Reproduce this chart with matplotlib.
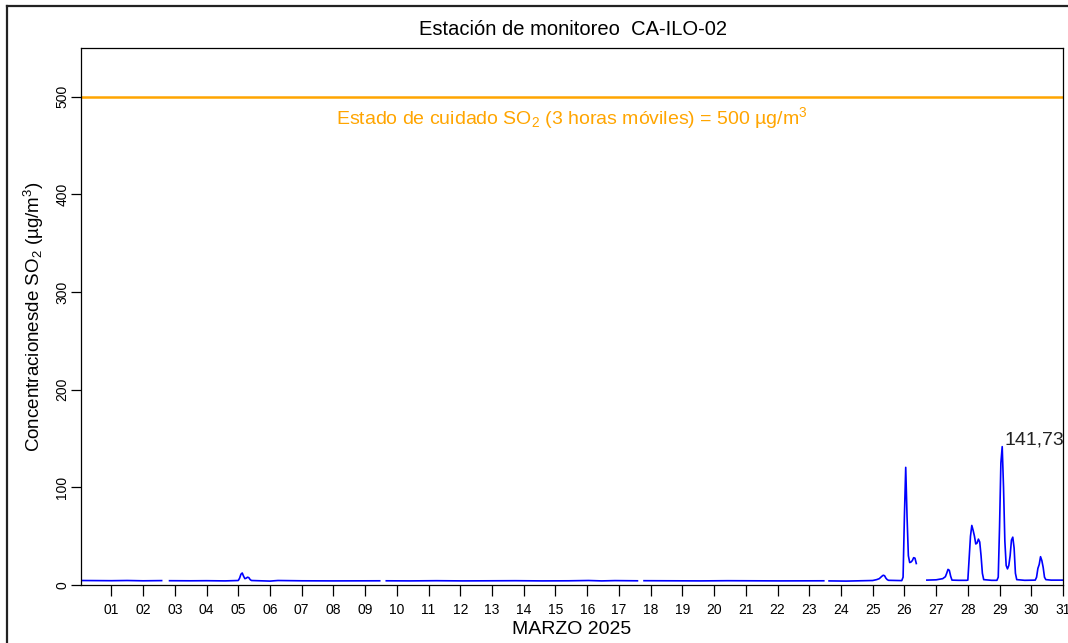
import numpy as np
import matplotlib
matplotlib.use('Agg')
import matplotlib.pyplot as plt
from matplotlib.lines import Line2D

plt.rcParams['font.family'] = ['Liberation Sans', 'DejaVu Sans']
plt.rcParams['mathtext.fontset'] = 'custom'
plt.rcParams['mathtext.rm'] = 'Liberation Sans'
plt.rcParams['mathtext.it'] = 'Liberation Sans:italic'
plt.rcParams['mathtext.bf'] = 'Liberation Sans:bold'

NAN = np.nan

# hour of month (1..744) and SO2 value; NaN = missing data
hours = [
    1, 12, 24, 36, 48, 62, 64,
    68, 84, 96, 110, 118, 120, 121, 122, 123, 124, 125, 126, 127, 128, 129, 130,
    144, 150, 168, 192, 210, 227, 229,
    232, 250, 270, 290, 310, 330, 350, 370, 385, 395, 405, 422, 424,
    427, 445, 470, 490, 510, 530, 550, 563, 565,
    567, 580, 590, 600, 603, 605, 607, 608, 609, 610, 611, 612, 620, 622,
    623, 624, 625, 626, 627, 628, 629, 630, 631, 632, 633, 636,
    641, 648, 653, 655, 656, 657, 658, 659, 660, 665, 671,
    672, 673, 674, 675, 676, 677, 678, 679, 680, 681, 682, 683, 684, 690, 694,
    695, 696, 697, 698, 699, 700, 701, 702, 703, 704, 705, 706, 707, 708, 709,
    715, 723, 724, 725, 726, 727, 728, 729, 730, 731, 735, 744,
]
so2 = [
    4.6, 4.5, 4.4, 4.6, 4.3, 4.5, NAN,
    4.4, 4.3, 4.4, 4.2, 4.5, 4.6, 7.0, 11.0, 12.3, 9.0, 6.5, 7.0, 8.0, 7.5, 5.5, 4.6,
    4.0, 4.6, 4.3, 4.2, 4.3, 4.3, NAN,
    4.3, 4.2, 4.4, 4.2, 4.3, 4.4, 4.2, 4.3, 4.6, 4.2, 4.5, 4.3, NAN,
    4.4, 4.3, 4.2, 4.4, 4.3, 4.2, 4.3, 4.3, NAN,
    4.2, 4.0, 4.3, 4.6, 5.5, 6.5, 9.0, 10.0, 9.5, 7.0, 5.5, 4.8, 4.6, 4.5,
    8.0, 70.0, 120.5, 70.0, 30.0, 23.0, 23.5, 25.0, 28.0, 27.5, 22.0, NAN,
    5.0, 5.3, 6.5, 8.5, 12.0, 16.0, 15.0, 9.0, 5.0, 4.8, 4.8,
    5.0, 28.0, 50.0, 61.0, 56.0, 50.0, 42.0, 43.0, 47.0, 44.0, 30.0, 12.0, 5.5, 4.8, 4.8,
    8.0, 60.0, 125.0, 141.73, 100.0, 45.0, 20.0, 16.5, 20.0, 30.0, 46.0, 49.0, 38.0, 12.0, 5.5,
    4.8, 5.0, 8.0, 17.0, 21.0, 29.0, 25.0, 18.0, 8.0, 5.5, 5.0, 5.0,
]

day_ticks = [24 * d for d in range(1, 32)]
day_labels = [f'{d:02d}' for d in range(1, 32)]

limit_value = 500
max_hour = 698
max_value = 141.73

fig = plt.figure(figsize=(10.68, 6.43), dpi=100)
ax = fig.add_axes([81 / 1068, 1 - 585 / 643, (1063 - 81) / 1068, (585 - 48) / 643])

ax.plot(hours, so2, color='#0000FF', linewidth=1.2)
ax.axhline(limit_value, color='#FFA500', linewidth=1.8)
ax.text(0.5, 472, 'Estado de cuidado SO$_2$ (3 horas móviles) = 500 µg/m$^3$',
        transform=ax.get_yaxis_transform(), ha='center', va='baseline',
        fontsize=14, color='#FFA500')
ax.text(max_hour + 2, max_value + 1.8, '141,73', ha='left', va='baseline',
        fontsize=14, color='#222222')

ax.set_xlim(1, 744)
ax.set_ylim(0, 550)
ax.set_xticks(day_ticks)
ax.set_xticklabels(day_labels, fontsize=10)
ax.set_yticks([0, 100, 200, 300, 400, 500])
ax.set_yticklabels(['0', '100', '200', '300', '400', '500'], fontsize=10,
                   rotation=90, va='center')
ax.tick_params(axis='x', length=8, width=0.9, pad=5)
ax.tick_params(axis='y', length=7.5, width=0.9, pad=1)
for sp in ax.spines.values():
    sp.set_linewidth(0.9)

ax.set_xlabel('MARZO 2025', fontsize=14, labelpad=3)
ax.set_ylabel('Concentracionesde SO$_2$ (µg/m$^3$)', fontsize=13.5)
ax.yaxis.set_label_coords(-35 / 982, 0.5)

fig.text(573 / 1068, 1 - 35.3 / 643, 'Estación de monitoreo  CA-ILO-02',
         ha='center', va='baseline', fontsize=14.5)

# outer frame (cropped on right and bottom)
fig.add_artist(Line2D([7.3 / 1068, 7.3 / 1068], [0, 1 - 5.7 / 643],
                      transform=fig.transFigure, color='#222222', linewidth=1.6))
fig.add_artist(Line2D([7.3 / 1068, 1], [1 - 5.7 / 643, 1 - 5.7 / 643],
                      transform=fig.transFigure, color='#222222', linewidth=1.6))

fig.savefig('out.png', dpi=100)
